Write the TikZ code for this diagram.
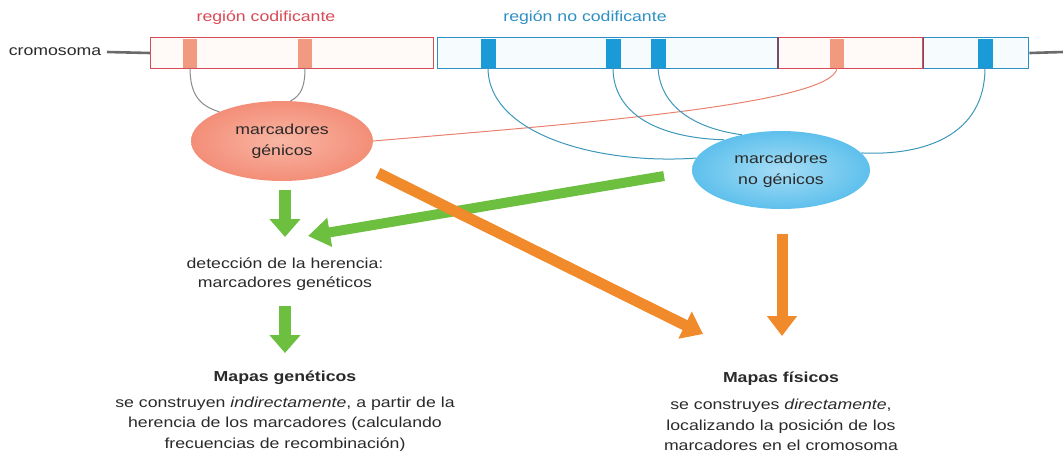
\documentclass[tikz,border=0pt]{standalone}
\usepackage{fontspec}
\setmainfont{Liberation Sans}[FakeStretch=1.22]
\usetikzlibrary{arrows.meta,shapes.geometric}
\definecolor{redc}{HTML}{D84A55}
\definecolor{bluec}{HTML}{2E8FC4}
\definecolor{salm}{HTML}{F29A80}
\definecolor{bmark}{HTML}{1A9AD6}
\definecolor{greenc}{HTML}{6CBF3F}
\definecolor{orangec}{HTML}{F08A2A}
\definecolor{ellred}{HTML}{F38E78}
\definecolor{ellredl}{HTML}{F9B6A4}
\definecolor{ellblue}{HTML}{5EC0EC}
\definecolor{ellbluel}{HTML}{A6DDF6}
\definecolor{divc}{HTML}{7A4A6A}
\definecolor{txt}{HTML}{2A2A2A}
\definecolor{linkgray}{HTML}{8A8A8A}
\definecolor{cromline}{HTML}{6A6A6A}
\definecolor{linkred}{HTML}{E8826E}
\definecolor{linkblue}{HTML}{3C97B8}
\definecolor{redtint}{HTML}{FFF9F7}
\definecolor{bluetint}{HTML}{F6FBFE}
\begin{document}
\begin{tikzpicture}[x=1pt,y=-1pt,
  lbl/.style={font=\fontsize{14.5}{20.5}\selectfont, text=txt, align=center, inner sep=0},
  segbox/.style={minimum height=31pt, inner sep=0, anchor=west, line width=1.4pt},
  rmark/.style={fill=salm, minimum width=14pt, minimum height=29pt, inner sep=0},
  bmarkst/.style={fill=bmark, minimum width=15pt, minimum height=29pt, inner sep=0},
  ellg/.style={ellipse, minimum width=182pt, minimum height=80pt, inner sep=0, inner color=ellredl, outer color=ellred},
  ellng/.style={ellipse, minimum width=178pt, minimum height=78pt, inner sep=0, inner color=ellbluel, outer color=ellblue},
  glink/.style={draw=linkgray, line width=1pt},
  rlink/.style={draw=linkred, line width=1pt},
  blink/.style={draw=linkblue, line width=1pt},
  garrow/.style={draw=greenc, line width=12pt, -{Triangle[length=18pt,width=30pt]}},
  garrowd/.style={draw=greenc, line width=10pt, -{Triangle[length=22pt,width=28pt]}},
  oarrow/.style={draw=orangec, line width=11pt, -{Triangle[length=20pt,width=29pt]}}
]
\useasboundingbox (0,0) rectangle (1063,459);

% labels
\node[lbl, text=redc] (lcod) at (266,18) {región codificante};
\node[lbl, text=bluec] (lnocod) at (585,18) {región no codificante};
\node[lbl] (crom) at (55,52) {cromosoma};

% chromosome
\node[segbox, draw=redc, fill=redtint, minimum width=283pt] (rbox) at (150,53) {};
\node[segbox, draw=bluec, fill=bluetint, minimum width=591pt] (bbox) at (437,53) {};
\node[segbox, draw=redc, fill=redtint, minimum width=144pt] (rbox2) at (778,53) {};
\draw[divc, line width=1.6pt] (rbox2.north west) -- (rbox2.south west);
\draw[divc, line width=1.6pt] (rbox2.north east) -- (rbox2.south east);
\coordinate (cstart) at (107,52);
\coordinate (rend) at (1063,52);
\draw[cromline, line width=2.6pt] (cstart) -- (rbox.west);
\draw[cromline, line width=2.6pt] (bbox.east) -- (rend);

% markers
\node[rmark] (m1) at (190,53) {};
\node[rmark] (m2) at (305,53) {};
\node[bmarkst] (m3) at (488,53) {};
\node[bmarkst] (m4) at (613,53) {};
\node[bmarkst] (m5) at (658,53) {};
\node[rmark] (m6) at (837,53) {};
\node[bmarkst] (m7) at (985,53) {};

% ellipses
\node[ellg] (eg) at (282,141) {};
\node[lbl] (egt) at (eg.center) {marcadores\\génicos};
\node[ellng] (eng) at (781,170) {};
\node[lbl] (engt) at (eng.center) {marcadores\\no génicos};

% links
\draw[glink] (m1.south) .. controls (190,95) and (200,106) .. (eg.155);
\draw[glink] (m2.south) .. controls (305,85) and (302,95) .. (eg.78);
\draw[rlink] (m6.south) .. controls (835,105) and (560,125) .. (eg.east);
\draw[blink] (m3.south) .. controls (488,135) and (600,165) .. (eng.172);
\draw[blink] (m4.south) .. controls (613,115) and (660,138) .. (eng.152);
\draw[blink] (m5.south) .. controls (660,105) and (692,128) .. (eng.138);
\draw[blink] (m7.south) .. controls (985,135) and (925,156) .. (eng.12);

% texts
\node[lbl, font=\fontsize{14.5}{19}\selectfont] (det) at (285,274) {detección de la herencia:\\marcadores genéticos};
\node[lbl, font=\fontsize{14.5}{20}\selectfont\bfseries] (mg) at (285,378) {Mapas genéticos};
\node[lbl] (mgd) at (285,424) {se construyen \textit{indirectamente}, a partir de la\\herencia de los marcadores (calculando\\frecuencias de recombinación)};
\node[lbl, font=\fontsize{14.5}{20}\selectfont\bfseries] (mf) at (781,379) {Mapas físicos};
\node[lbl] (mfd) at (781,425) {se construyes \textit{directamente},\\localizando la posición de los\\marcadores en el cromosoma};

% arrows
\coordinate (ga1s) at (285,190);
\coordinate (ga1e) at (285,237);
\draw[garrow] (ga1s) -- (ga1e);
\coordinate (ga2s) at (285,306);
\coordinate (ga2e) at (285,353);
\draw[garrow] (ga2s) -- (ga2e);
\coordinate (gds) at (664,176);
\coordinate (gde) at (308,236);
\draw[garrowd] (gds) -- (gde);
\coordinate (ods) at (378,173);
\coordinate (ode) at (703,334);
\draw[oarrow] (ods) -- (ode);
\coordinate (ovs) at (782,234);
\coordinate (ove) at (782,336);
\draw[oarrow] (ovs) -- (ove);
\end{tikzpicture}
\end{document}
